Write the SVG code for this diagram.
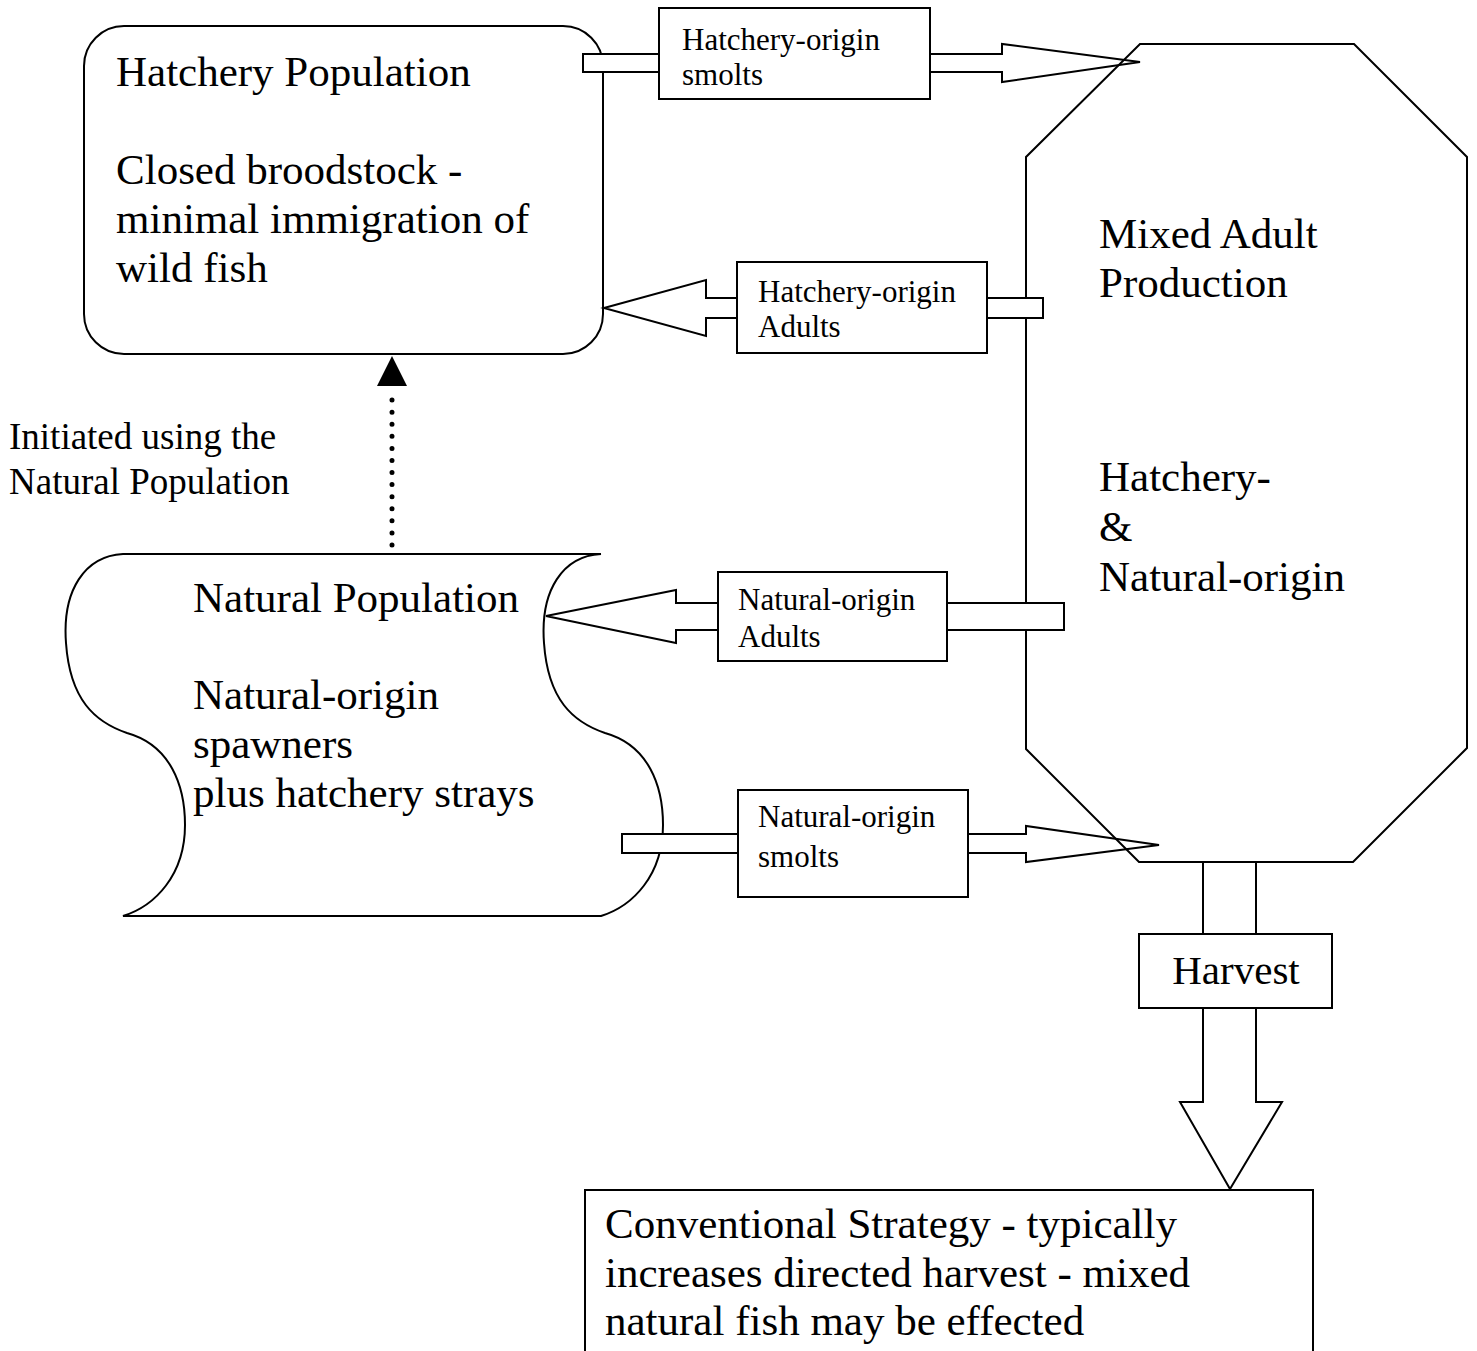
<svg xmlns="http://www.w3.org/2000/svg" width="1477" height="1351" viewBox="0 0 1477 1351">
<style>
.s{fill:#fff;stroke:#000;stroke-width:2;stroke-linejoin:miter}
.n{fill:none;stroke:#000;stroke-width:2}
text{font-family:"Liberation Serif","Times New Roman",serif;fill:#000}
.b{font-size:43px}
.m{font-size:37px}
.l{font-size:31px}
</style>
<rect width="1477" height="1351" fill="#fff"/>
<g id="hatchery-population">
<rect class="s" x="84" y="26" width="519" height="328" rx="40" ry="40"/>
<text class="b" x="116" y="86">Hatchery Population</text>
<text class="b" x="116" y="184">Closed broodstock -</text>
<text class="b" x="116" y="233">minimal immigration of</text>
<text class="b" x="116" y="282">wild fish</text>
</g>
<g id="natural-population">
<path class="s" d="M123 554 L601 554 C563 556 540 590 544 643 C548 700 573 722 605 733 C648 745 663 785 663 825 C663 875 633 906 601 916 L123 916 C155 906 185 875 185 825 C185 785 170 745 127 733 C95 722 70 700 66 643 C62 590 85 556 123 554 Z"/>
<text class="b" x="193" y="612">Natural Population</text>
<text class="b" x="193" y="709">Natural-origin</text>
<text class="b" x="193" y="758">spawners</text>
<text class="b" x="193" y="807">plus hatchery strays</text>
</g>
<g id="connectors">
<polygon class="s" points="583,54 1002,54 1002,44 1140,62 1002,82 1002,72 583,72"/>
<polygon class="s" points="622,834 1026,834 1026,826 1159,845 1026,862 1026,853 622,853"/>
<path d="M392 545 L392 388" fill="none" stroke="#000" stroke-width="5" stroke-linecap="round" stroke-dasharray="0 12.077"/>
<polygon points="392,356 377,386 407,386" fill="#000"/>
</g>
<g id="mixed-adult-production">
<polygon class="n" points="1140,44 1354,44 1467,157 1467,748 1353,862 1139,862 1026,749 1026,157"/>
<text class="b" x="1099" y="248">Mixed Adult</text>
<text class="b" x="1099" y="297">Production</text>
<text class="b" x="1099" y="491">Hatchery-</text>
<text class="b" x="1099" y="541">&amp;</text>
<text class="b" x="1099" y="591">Natural-origin</text>
</g>
<g id="connectors-2">
<polygon class="s" points="604,308 706,280 706,298 1043,298 1043,318 706,318 706,336"/>
<polygon class="s" points="546,616 676,590 676,603 1064,603 1064,630 676,630 676,643"/>
<polyline class="n" points="1203,862 1203,934"/>
<polyline class="n" points="1256,862 1256,934"/>
<polygon class="s" points="1203,1008 1203,1102 1180,1102 1230,1189 1282,1102 1256,1102 1256,1008"/>
</g>
<g id="hatchery-origin-smolts">
<rect class="s" x="659" y="8" width="271" height="91"/>
<text class="l" x="682" y="50">Hatchery-origin</text>
<text class="l" x="682" y="85">smolts</text>
</g>
<g id="hatchery-origin-adults">
<rect class="s" x="737" y="262" width="250" height="91"/>
<text class="l" x="758" y="302">Hatchery-origin</text>
<text class="l" x="758" y="337">Adults</text>
</g>
<g id="natural-origin-adults">
<rect class="s" x="718" y="572" width="229" height="89"/>
<text class="l" x="738" y="610">Natural-origin</text>
<text class="l" x="738" y="647">Adults</text>
</g>
<g id="natural-origin-smolts">
<rect class="s" x="738" y="790" width="230" height="107"/>
<text class="l" x="758" y="827">Natural-origin</text>
<text class="l" x="758" y="867">smolts</text>
</g>
<g id="harvest">
<rect class="s" x="1139" y="934" width="193" height="74"/>
<text class="b" x="1236" y="984" text-anchor="middle" style="font-size:41px">Harvest</text>
</g>
<g id="conventional-strategy">
<rect class="s" x="585" y="1190" width="728" height="180"/>
<text class="b" x="605" y="1238">Conventional Strategy - typically</text>
<text class="b" x="605" y="1287">increases directed harvest - mixed</text>
<text class="b" x="605" y="1335">natural fish may be effected</text>
</g>
<g id="initiated-label">
<text class="m" x="9" y="449">Initiated using the</text>
<text class="m" x="9" y="494">Natural Population</text>
</g>
</svg>
